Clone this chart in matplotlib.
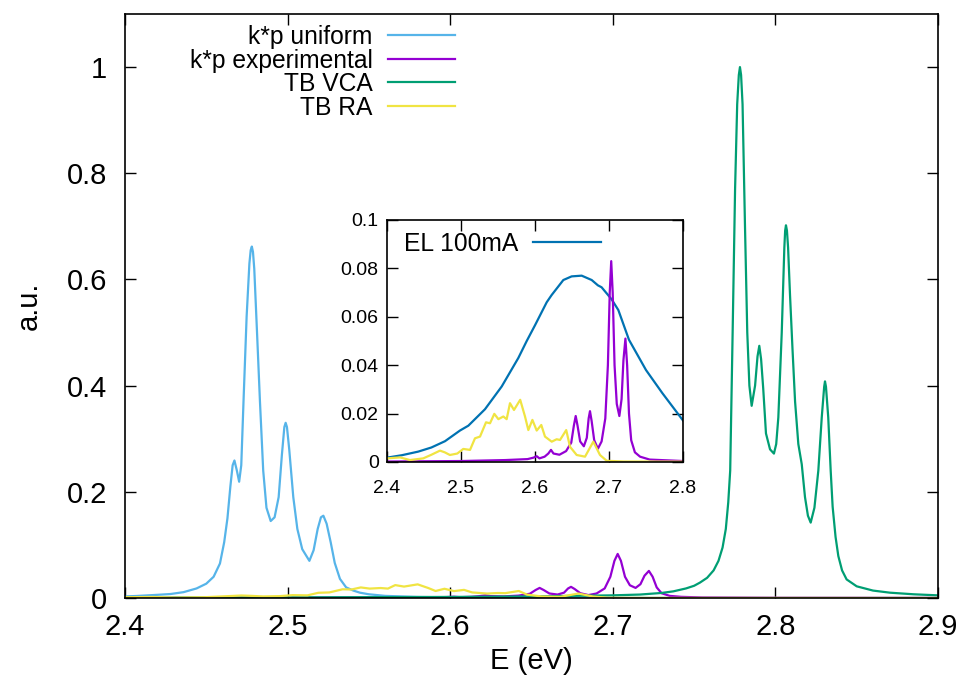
import numpy as np
import matplotlib
matplotlib.use("Agg")
import matplotlib.pyplot as plt
from matplotlib.ticker import FuncFormatter

plt.rcParams['font.family'] = ['Liberation Sans', 'DejaVu Sans']

# ---------------- data ----------------
kp_uniform_x = [2.400, 2.407, 2.420, 2.428, 2.436, 2.444, 2.450, 2.4545, 2.4584, 2.461,
                2.4630, 2.4648, 2.4662, 2.4673, 2.4688, 2.4702, 2.4715, 2.4730, 2.4748, 2.4765,
                2.4773, 2.4780, 2.4787, 2.4795, 2.4812, 2.4830, 2.4850, 2.4870, 2.4896, 2.4920,
                2.4945, 2.4965, 2.4980, 2.4988, 2.4996, 2.5010, 2.5035, 2.5060, 2.5090, 2.5134,
                2.5160, 2.5185, 2.5205, 2.5220, 2.5240, 2.5265, 2.5290, 2.5322, 2.5360, 2.5404,
                2.5445, 2.5500, 2.5600, 2.5800, 2.6000, 2.6500, 2.7000, 2.8000, 2.9000]
kp_uniform_y = [0.003, 0.0038, 0.006, 0.0075, 0.011, 0.018, 0.027, 0.040, 0.065, 0.105,
                0.150, 0.210, 0.250, 0.259, 0.240, 0.219, 0.250, 0.380, 0.530, 0.630,
                0.655, 0.662, 0.652, 0.620, 0.500, 0.370, 0.240, 0.170, 0.145, 0.152,
                0.190, 0.270, 0.322, 0.330, 0.322, 0.280, 0.190, 0.130, 0.092, 0.070,
                0.090, 0.130, 0.152, 0.155, 0.140, 0.105, 0.066, 0.036, 0.020, 0.014,
                0.010, 0.007, 0.004, 0.002, 0.0012, 0.0006, 0.0003, 0.0001, 0.0001]

kp_exp_x = [2.400, 2.500, 2.560, 2.590, 2.598, 2.6023, 2.6060, 2.6130, 2.6180, 2.6216,
            2.6250, 2.6330, 2.6420, 2.6490, 2.6525, 2.6550, 2.6575, 2.6610, 2.6660, 2.6700,
            2.6725, 2.6743, 2.6765, 2.6800, 2.6850, 2.6900, 2.6950, 2.6985, 2.7010, 2.7030,
            2.7050, 2.7075, 2.7105, 2.7140, 2.7170, 2.7195, 2.7222, 2.7245, 2.7270, 2.7300,
            2.7350, 2.7420, 2.7550, 2.8000, 2.9000]
kp_exp_y = [0.0002, 0.0004, 0.0008, 0.0012, 0.0018, 0.0024, 0.0015, 0.0022, 0.0035, 0.0050,
            0.0035, 0.0030, 0.0045, 0.0080, 0.0150, 0.0190, 0.0150, 0.0085, 0.0065, 0.0100,
            0.0180, 0.0210, 0.0170, 0.0090, 0.0055, 0.0085, 0.018, 0.040, 0.070, 0.083,
            0.070, 0.040, 0.024, 0.0190, 0.026, 0.042, 0.051, 0.040, 0.020, 0.0090,
            0.0040, 0.0022, 0.0010, 0.0004, 0.0002]

tb_vca_x = [2.400, 2.500, 2.600, 2.650, 2.700, 2.7167, 2.7300, 2.7372, 2.7450, 2.7500,
            2.7536, 2.7580, 2.7620, 2.7650, 2.7675, 2.7695, 2.7710, 2.7722, 2.7737, 2.7752,
            2.7765, 2.7775, 2.7782, 2.7789, 2.7798, 2.7813, 2.7827, 2.7840, 2.7854, 2.7875,
            2.7890, 2.7901, 2.7912, 2.7925, 2.7942, 2.7967, 2.7991, 2.8005, 2.8018, 2.8039,
            2.8055, 2.8060, 2.8065, 2.8071, 2.8078, 2.8090, 2.8105, 2.8121, 2.8141, 2.8162,
            2.8182, 2.8200, 2.8217, 2.8240, 2.8264, 2.8285, 2.8300, 2.8305, 2.8311, 2.8325,
            2.8340, 2.8352, 2.8370, 2.8387, 2.8410, 2.8438, 2.8500, 2.8600, 2.8705, 2.8850,
            2.9000]
tb_vca_y = [0.0008, 0.0012, 0.0020, 0.0030, 0.0050, 0.0065, 0.0095, 0.0125, 0.018, 0.023,
            0.029, 0.038, 0.052, 0.070, 0.095, 0.130, 0.180, 0.240, 0.500, 0.770,
            0.930, 0.985, 1.000, 0.985, 0.930, 0.700, 0.500, 0.400, 0.362, 0.400,
            0.455, 0.475, 0.450, 0.395, 0.310, 0.280, 0.272, 0.290, 0.340, 0.500,
            0.660, 0.692, 0.702, 0.692, 0.660, 0.570, 0.470, 0.370, 0.290, 0.252,
            0.190, 0.155, 0.142, 0.170, 0.240, 0.340, 0.398, 0.408, 0.398, 0.340,
            0.240, 0.172, 0.115, 0.079, 0.052, 0.035, 0.022, 0.014, 0.010, 0.007,
            0.005]

tb_ra_x = [2.400, 2.4176, 2.4310, 2.4490, 2.4600, 2.4716, 2.4780, 2.4850, 2.4950, 2.5031,
           2.5122, 2.5189, 2.5257, 2.5338, 2.5392, 2.5450, 2.5505, 2.5572, 2.5617, 2.5662,
           2.5716, 2.5800, 2.5865, 2.5910, 2.5965, 2.6023, 2.6085, 2.6135, 2.6226, 2.6293,
           2.6338, 2.6422, 2.6473, 2.6563, 2.6676, 2.6788, 2.6878, 2.6969, 2.7200, 2.9000]
tb_ra_y = [0.0015, 0.0019, 0.0008, 0.0015, 0.0030, 0.0047, 0.0040, 0.0029, 0.0035, 0.0054,
           0.0050, 0.0098, 0.0105, 0.0164, 0.0160, 0.0199, 0.0177, 0.0188, 0.0177, 0.0243,
           0.0215, 0.0257, 0.0188, 0.0132, 0.0174, 0.0130, 0.0153, 0.0105, 0.0084, 0.0094,
           0.0091, 0.0132, 0.0063, 0.0029, 0.0022, 0.0084, 0.0029, 0.0005, 0.0002, 0.0001]

el_x = [2.400, 2.420, 2.4423, 2.460, 2.4784, 2.4986, 2.5099, 2.5324, 2.5437, 2.555,
        2.5775, 2.5888, 2.600, 2.6158, 2.6225, 2.6383, 2.6495, 2.6631, 2.6766, 2.6850,
        2.6900, 2.7036, 2.7126, 2.7270, 2.7500, 2.7720, 2.8004]
el_y = [0.0018, 0.0028, 0.0043, 0.0060, 0.0086, 0.0130, 0.0150, 0.0218, 0.0265, 0.0312,
        0.0430, 0.0500, 0.0565, 0.0660, 0.0690, 0.0752, 0.0767, 0.0770, 0.0752, 0.0730,
        0.0722, 0.0672, 0.0628, 0.0505, 0.0380, 0.0285, 0.0170]

main_xticks = [2.4, 2.5, 2.6, 2.7, 2.8, 2.9]
main_yticks = [0, 0.2, 0.4, 0.6, 0.8, 1.0]
inset_xticks = [2.4, 2.5, 2.6, 2.7, 2.8]
inset_yticks = [0, 0.02, 0.04, 0.06, 0.08, 0.1]

labels = ["k*p uniform", "k*p experimental", "TB VCA", "TB RA"]
colors = ["#56b4e9", "#9400d3", "#009e73", "#f0e442"]
el_label = "EL 100mA"
el_color = "#0072b2"

# ---------------- figure ----------------
W, H = 974, 679
fig = plt.figure(figsize=(W / 100, H / 100), dpi=100)
ax = fig.add_axes([125 / W, (H - 598) / H, (938 - 125) / W, (598 - 14) / H])

series = [(kp_uniform_x, kp_uniform_y), (kp_exp_x, kp_exp_y),
          (tb_vca_x, tb_vca_y), (tb_ra_x, tb_ra_y)]
for (xs, ys), lab, col in zip(series, labels, colors):
    ax.plot(xs, ys, color=col, lw=1.6, label=lab)

fmt = FuncFormatter(lambda v, p: "%g" % round(v, 6))
ax.set_xlim(2.4, 2.9)
ax.set_ylim(0, 1.1)
ax.set_xticks(main_xticks)
ax.set_yticks(main_yticks)
ax.xaxis.set_major_formatter(fmt)
ax.yaxis.set_major_formatter(fmt)
ax.tick_params(direction='in', top=True, right=True, length=8, width=1,
               labelsize=21)
ax.tick_params(axis='x', pad=11)
ax.tick_params(axis='y', pad=13)
for s in ax.spines.values():
    s.set_linewidth(1.2)
ax.set_xlabel("E (eV)", fontsize=21, labelpad=4)
ax.set_ylabel("a.u.", fontsize=21, labelpad=17)

leg = ax.legend(loc='upper left', bbox_to_anchor=(190 / W, 1 - 25 / H),
                bbox_transform=fig.transFigure, frameon=False, markerfirst=False,
                fontsize=17.7, handlelength=2.75, handletextpad=0.6,
                labelspacing=-0.02, borderpad=0, borderaxespad=0)

# ---------------- inset ----------------
ax2 = fig.add_axes([387 / W, (H - 462) / H, (683 - 387) / W, (462 - 220) / H])
ax2.plot(el_x, el_y, color=el_color, lw=1.6, label=el_label)
ax2.plot(kp_exp_x, kp_exp_y, color=colors[1], lw=1.6)
ax2.plot(tb_ra_x, tb_ra_y, color=colors[3], lw=1.6)
ax2.set_xlim(2.4, 2.8)
ax2.set_ylim(0, 0.1)
ax2.set_xticks(inset_xticks)
ax2.set_yticks(inset_yticks)
ax2.xaxis.set_major_formatter(fmt)
ax2.yaxis.set_major_formatter(fmt)
ax2.tick_params(direction='in', top=True, right=True, length=8, width=1,
                labelsize=14)
ax2.tick_params(axis='x', pad=13)
ax2.tick_params(axis='y', pad=6)
for s in ax2.spines.values():
    s.set_linewidth(1.2)
ax2.legend(loc='upper left', bbox_to_anchor=(404 / W, 1 - 232 / H),
           bbox_transform=fig.transFigure, frameon=False, markerfirst=False,
           fontsize=17.7, handlelength=2.75, handletextpad=0.6,
           borderpad=0, borderaxespad=0)

fig.savefig("out.png", dpi=100)
